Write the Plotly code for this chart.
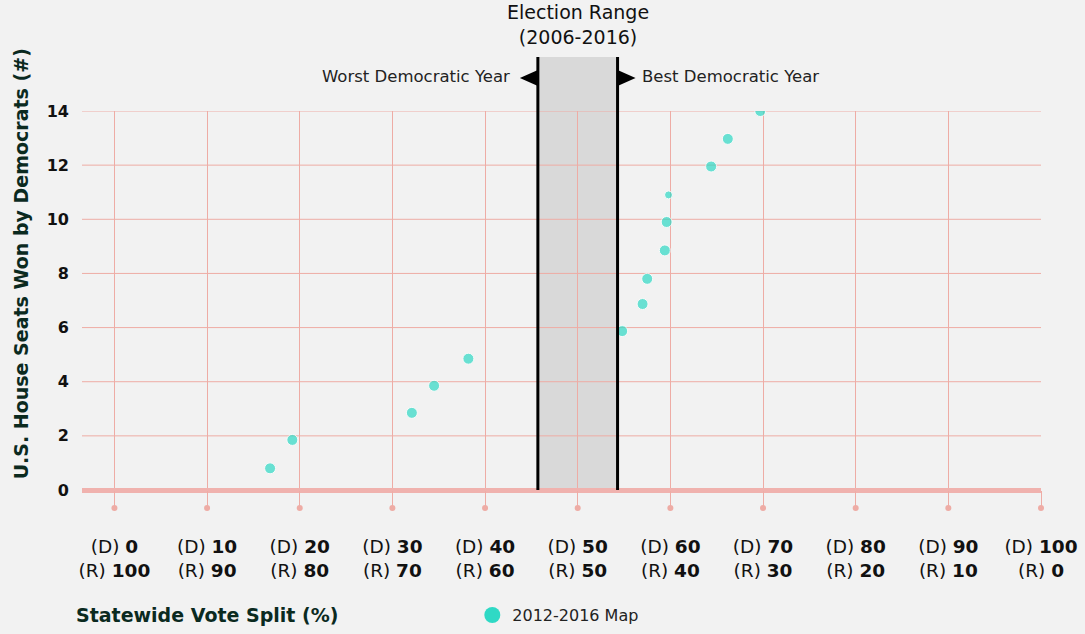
import plotly.graph_objects as go

# statewide Democratic vote share (%) vs. seats won, 2012-2016 map
vote_share_d = [16.8, 19.2, 32.1, 34.5, 38.2, 54.8, 57.0, 57.5, 59.4, 59.6, 59.8, 64.4, 66.2, 69.7]
seats_d = [0.8, 1.85, 2.85, 3.85, 4.85, 5.87, 6.87, 7.8, 8.85, 9.9, 10.9, 11.95, 12.97, 14.0]

# election range (2006-2016): worst and best Democratic year
range_lo = 45.7
range_hi = 54.3

x_ticks = [0, 10, 20, 30, 40, 50, 60, 70, 80, 90, 100]
x_ticktext = [f"(D) <b>{v}</b><br>(R) <b>{100 - v}</b>" for v in x_ticks]
y_ticks = [0, 2, 4, 6, 8, 10, 12, 14]
x_range = [-3.5, 100]

BG = "#f2f2f2"
PINK = "rgb(238,172,165)"
TEAL = "#2fd9c5"
GREEN = "#0b2a1f"
FONT = "DejaVu Sans"

fig = go.Figure()

fig.add_trace(go.Scatter(
    x=vote_share_d, y=seats_d, mode="markers", name="2012-2016 Map", showlegend=False,
    marker=dict(color=TEAL, size=[11] * 10 + [8] + [11] * 3),
))
# legend entry with a bigger dot
fig.add_trace(go.Scatter(
    x=[None], y=[None], mode="markers", name="2012-2016 Map",
    marker=dict(color=TEAL, size=16),
))

# election range band
fig.add_shape(type="rect", xref="x", yref="paper", x0=range_lo, x1=range_hi, y0=0, y1=1.1425,
              fillcolor="#d9d9d9", line=dict(width=0), layer="below")

# horizontal grid lines (drawn over the band)
for yv in y_ticks[1:]:
    fig.add_shape(type="line", xref="paper", yref="y", x0=0, x1=1, y0=yv, y1=yv,
                  line=dict(color=PINK, width=1), layer="below")

# little dots at the end of the x ticks
for t in x_ticks:
    fx = (t - x_range[0]) / (x_range[1] - x_range[0])
    fig.add_shape(type="circle", xref="paper", yref="paper", xsizemode="pixel", ysizemode="pixel",
                  xanchor=fx, yanchor=0, x0=-3, x1=3, y0=-21, y1=-15,
                  fillcolor=PINK, line=dict(width=0))

# band edges and arrows
for xv in (range_lo, range_hi):
    fig.add_shape(type="line", xref="x", yref="paper", x0=xv, x1=xv, y0=0, y1=1.1425,
                  line=dict(color="black", width=3), layer="above")

fig.add_shape(type="path", xref="x", yref="paper", xsizemode="pixel", ysizemode="pixel",
              xanchor=range_lo, yanchor=1.087, path="M0,-8 L-18,0 L0,8 Z",
              fillcolor="black", line=dict(width=0))
fig.add_shape(type="path", xref="x", yref="paper", xsizemode="pixel", ysizemode="pixel",
              xanchor=range_hi, yanchor=1.087, path="M0,-8 L18,0 L0,8 Z",
              fillcolor="black", line=dict(width=0))

fig.add_annotation(text="Election Range<br>(2006-2016)", xref="x", yref="paper",
                   x=(range_lo + range_hi) / 2, y=1.228, xanchor="center", yanchor="middle",
                   showarrow=False, font=dict(family=FONT, size=19, color="#111"))
fig.add_annotation(text="Worst Democratic Year", xref="x", yref="paper", x=range_lo, y=1.09,
                   xanchor="right", yanchor="middle", xshift=-26, showarrow=False,
                   font=dict(family=FONT, size=16.5, color="#222"))
fig.add_annotation(text="Best Democratic Year", xref="x", yref="paper", x=range_hi, y=1.09,
                   xanchor="left", yanchor="middle", xshift=22, showarrow=False,
                   font=dict(family=FONT, size=16.5, color="#222"))

fig.add_annotation(text="<b>U.S. House Seats Won by Democrats (#)</b>", xref="paper", yref="paper",
                   x=-0.064, y=0.597, xanchor="center", yanchor="middle", textangle=-90,
                   showarrow=False, font=dict(family=FONT, size=19, color=GREEN))
fig.add_annotation(text="<b>Statewide Vote Split (%)</b>", xref="paper", yref="paper",
                   x=-0.008, y=-0.33, xanchor="left", yanchor="middle", showarrow=False,
                   font=dict(family=FONT, size=19, color=GREEN))

fig.update_layout(
    width=1085, height=634, autosize=False,
    paper_bgcolor=BG, plot_bgcolor=BG,
    margin=dict(l=82, r=44, t=111, b=144, autoexpand=False),
    font=dict(family=FONT, color="#111"),
    showlegend=True,
    legend=dict(orientation="h", x=0.407, y=-0.33, xanchor="left", yanchor="middle",
                font=dict(family=FONT, size=16, color="#222"), bgcolor="rgba(0,0,0,0)"),
)

fig.update_xaxes(
    range=x_range, tickvals=x_ticks, ticktext=x_ticktext,
    showgrid=True, gridcolor=PINK, gridwidth=1, zeroline=False,
    ticks="outside", ticklen=18, tickcolor=PINK, tickwidth=1,
    ticklabelstandoff=22, tickfont=dict(family=FONT, size=18.5, color="#111"),
    showline=False, automargin=False,
)
fig.update_yaxes(
    range=[0, 14], tickvals=y_ticks, showgrid=False,
    zeroline=True, zerolinecolor="#f0b2ae", zerolinewidth=5,
    ticks="", ticklabelstandoff=12,
    tickfont=dict(family=FONT, size=16, color="#111", weight="bold"),
    showline=False, automargin=False,
)

fig.write_html("out.html", config={"displayModeBar": False},
               post_script="document.body.style.margin='0';")
